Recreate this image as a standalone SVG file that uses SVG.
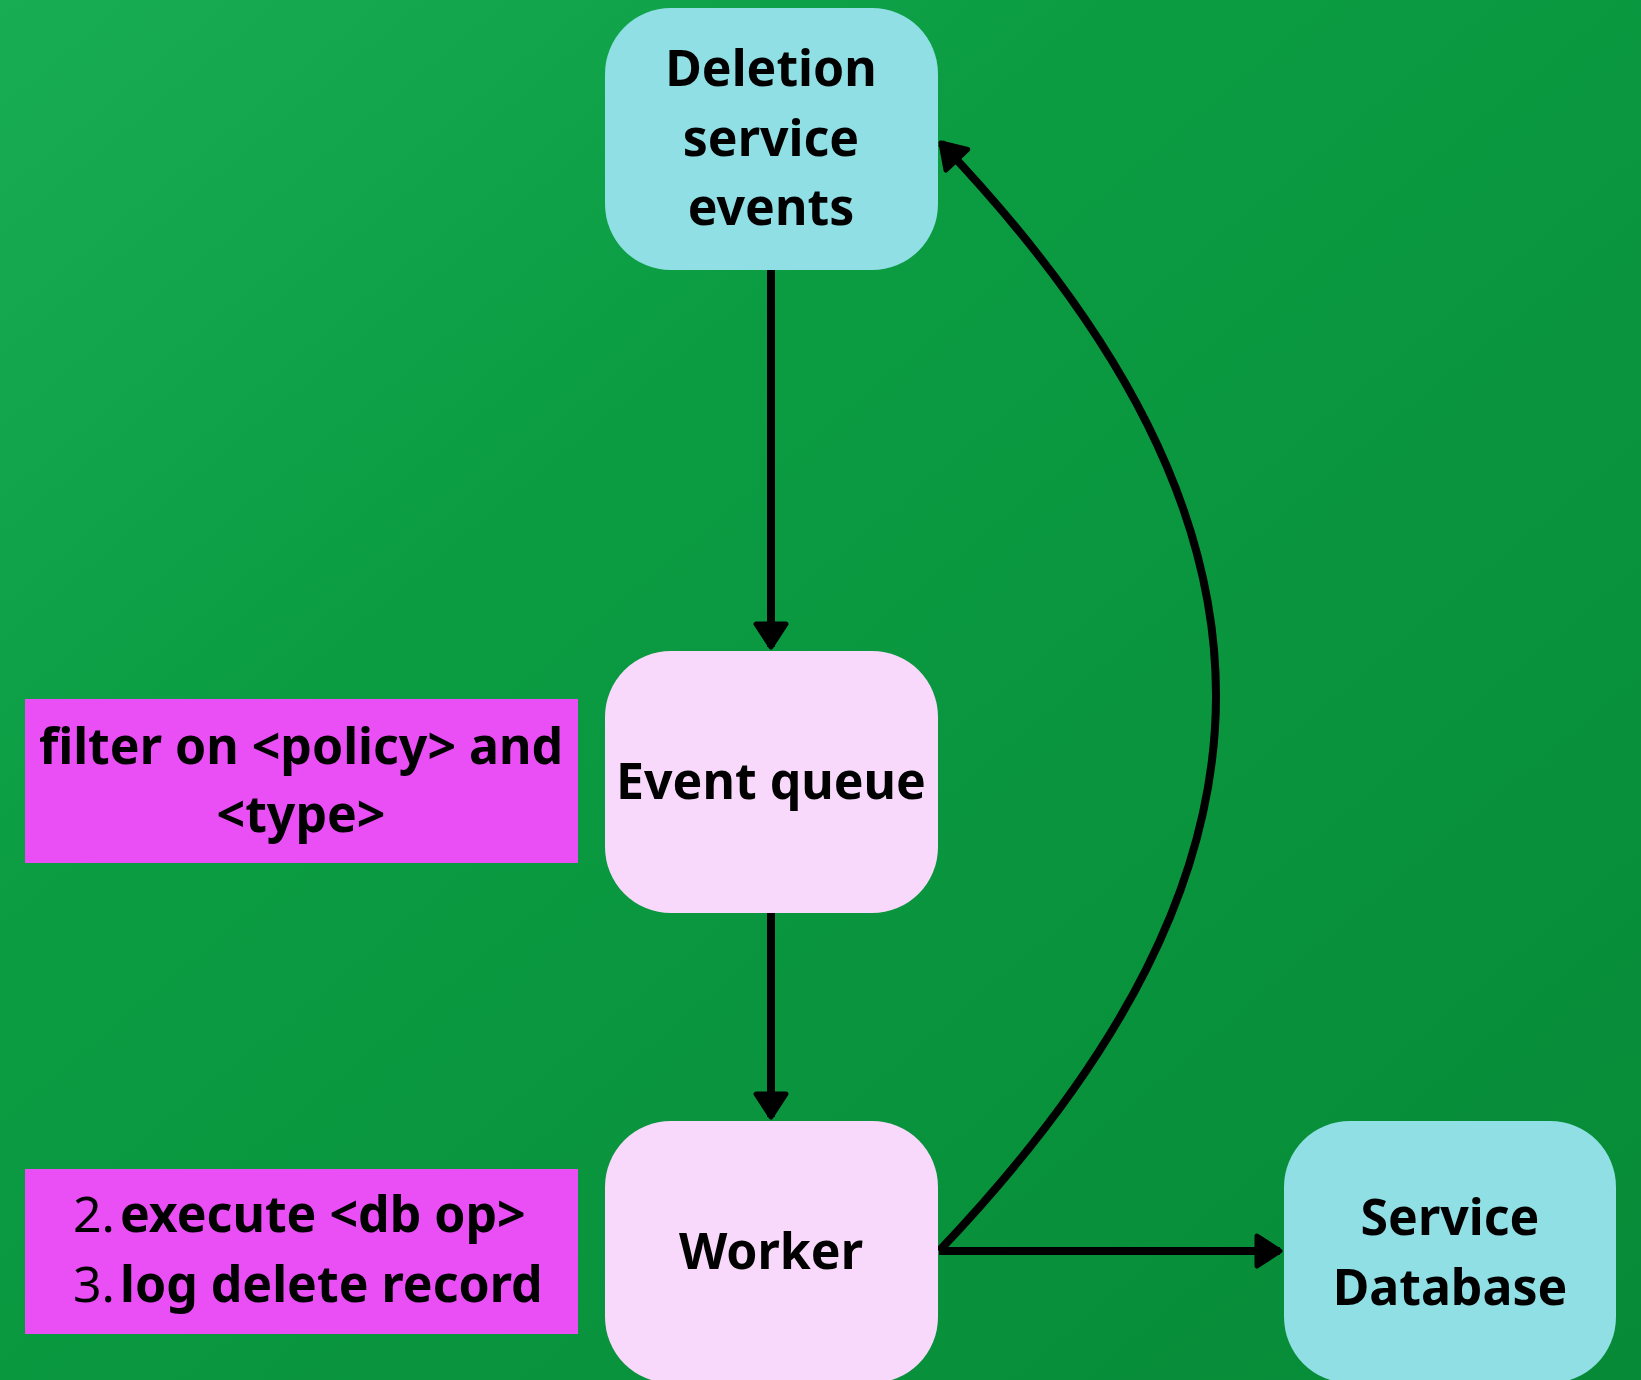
<svg xmlns="http://www.w3.org/2000/svg" width="1641" height="1380" viewBox="0 0 1641 1380">
  <defs>
    <linearGradient id="bg" x1="0" y1="0" x2="1" y2="1">
      <stop offset="0" stop-color="#19ad53"/>
      <stop offset="0.35" stop-color="#0b9c42"/>
      <stop offset="1" stop-color="#078a37"/>
    </linearGradient>
    <marker id="head" markerUnits="userSpaceOnUse" markerWidth="44" markerHeight="44" viewBox="-28 -22 34 44" refX="0" refY="0" orient="auto">
      <path d="M -23 -15 L 0 0 L -23 15 Z" fill="#000" stroke="#000" stroke-width="5" stroke-linejoin="round"/>
    </marker>
    <style>
      .label { font-family: "Noto Sans", "Open Sans", "Liberation Sans", sans-serif; font-weight: 700; font-size: 50px; fill: #000; text-anchor: middle; }
      .note { font-family: "Noto Sans", "Open Sans", "Liberation Sans", sans-serif; font-weight: 700; font-size: 50px; fill: #000; }
      .num { font-weight: 400; }
      .cyan { fill: #8fdfe5; }
      .pink { fill: #f9d9fb; }
      .magenta { fill: #e94ff5; }
      .edge { fill: none; stroke: #000; stroke-width: 8; marker-end: url(#head); }
    </style>
  </defs>

  <rect x="0" y="0" width="1641" height="1380" fill="url(#bg)"/>

  <!-- connectors -->
  <g id="connectors">
    <path class="edge" d="M 771 270 L 771 647"/>
    <path class="edge" d="M 771 913 L 771 1117"/>
    <path class="edge" d="M 939 1251 L 1280 1251"/>
    <path class="edge" d="M 939 1251 C 1308 863, 1308 529, 941 143"/>
  </g>

  <g id="deletion-events">
    <rect class="cyan" x="605" y="8" width="333" height="262" rx="66"/>
    <text class="label" x="771" y="86">Deletion</text>
    <text class="label" x="771" y="156">service</text>
    <text class="label" x="771" y="225">events</text>
  </g>

  <g id="event-queue">
    <rect class="pink" x="605" y="651" width="333" height="262" rx="66"/>
    <text class="label" x="771" y="799">Event queue</text>
  </g>

  <g id="worker">
    <rect class="pink" x="605" y="1121" width="333" height="262" rx="66"/>
    <text class="label" x="771" y="1269">Worker</text>
  </g>

  <g id="service-database">
    <rect class="cyan" x="1284" y="1121" width="332" height="262" rx="66"/>
    <text class="label" x="1450" y="1235">Service</text>
    <text class="label" x="1450" y="1305">Database</text>
  </g>

  <g id="filter-note">
    <rect class="magenta" x="25" y="699" width="553" height="164"/>
    <text class="note" x="301" y="764" text-anchor="middle">filter on &lt;policy&gt; and</text>
    <text class="note" x="301" y="832" text-anchor="middle">&lt;type&gt;</text>
  </g>

  <g id="steps-note">
    <rect class="magenta" x="25" y="1169" width="553" height="165"/>
    <text class="note" y="1232"><tspan class="num" x="73">2.</tspan><tspan x="120">execute &lt;db op&gt;</tspan></text>
    <text class="note" y="1302"><tspan class="num" x="73">3.</tspan><tspan x="120">log delete record</tspan></text>
  </g>
</svg>
